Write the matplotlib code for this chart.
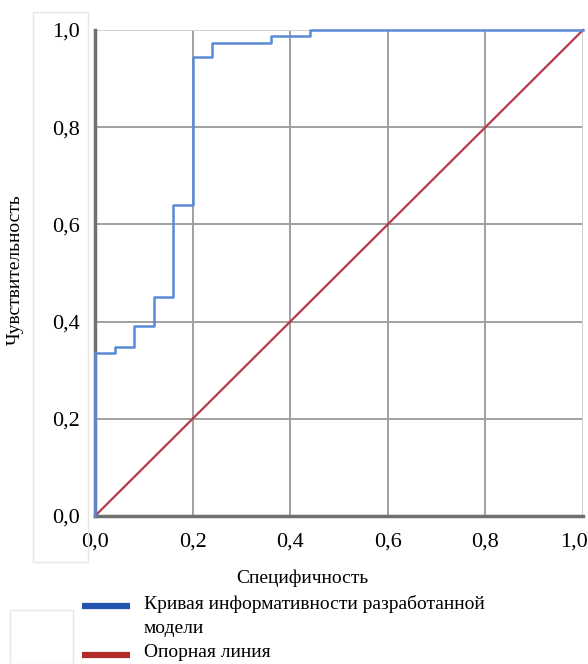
import matplotlib.pyplot as plt
import matplotlib.transforms as mtransforms
from matplotlib.lines import Line2D
from matplotlib.patches import Rectangle

plt.rcParams['font.family'] = ['Liberation Serif', 'DejaVu Serif']

# ступенчатая ROC-кривая (1 - специфичность, чувствительность)
roc_x = [0.0, 0.0, 0.04, 0.04, 0.08, 0.08, 0.12, 0.12, 0.16, 0.16,
         0.20, 0.20, 0.24, 0.24, 0.36, 0.36, 0.44, 0.44, 1.0]
roc_y = [0.0, 0.335, 0.335, 0.347, 0.347, 0.39, 0.39, 0.45, 0.45, 0.64,
         0.64, 0.945, 0.945, 0.974, 0.974, 0.988, 0.988, 1.0, 1.0]
ref_x = [0.0, 1.0]
ref_y = [0.0, 1.0]
ticks = [0.0, 0.2, 0.4, 0.6, 0.8, 1.0]
tick_labels = ['0,0', '0,2', '0,4', '0,6', '0,8', '1,0']
labels = ['Кривая информативности разработанной\nмодели', 'Опорная линия']

W, H = 588, 664
fig = plt.figure(figsize=(W / 100, H / 100), dpi=100)
ax = fig.add_axes([95 / W, 1 - 516 / H, 488 / W, 486 / H])

# бледные рамки вокруг подписей (как на скриншоте)
fig.patches.append(Rectangle((33 / W, 1 - 562 / H), 55 / W, 550 / H,
                             transform=fig.transFigure, fill=False,
                             edgecolor='#e6e6e6', lw=1))
fig.patches.append(Rectangle((10 / W, 0), 63 / W, 54 / H,
                             transform=fig.transFigure, fill=False,
                             edgecolor='#e6e6e6', lw=1))

for t in ticks[1:]:
    ax.axhline(t, color='#a0a0a0' if t < 1 else '#cfcfcf', lw=1.4, zorder=1)
    ax.axvline(t, color='#a0a0a0' if t < 1 else '#cfcfcf', lw=1.4, zorder=1)

ax.plot(ref_x, ref_y, color='#b5394b', lw=1.6, zorder=3, clip_on=False)
ax.plot(roc_x, roc_y, color='#5a8ad6', lw=1.8, zorder=4, clip_on=False)

ax.set_xlim(0, 1)
ax.set_ylim(0, 1)
ax.set_xticks(ticks)
ax.set_xticklabels(tick_labels, fontsize=16)
ax.set_yticks(ticks)
ax.set_yticklabels(tick_labels, fontsize=16)
ax.tick_params(axis='x', length=0, pad=12)
ax.tick_params(axis='y', length=0, pad=11)

# последняя подпись по x сдвинута влево, чтобы не обрезалась
last = ax.get_xticklabels()[-1]
last.set_transform(last.get_transform() +
                   mtransforms.ScaledTranslation(-9 / 100, 0, fig.dpi_scale_trans))

for s in ['top', 'right']:
    ax.spines[s].set_visible(False)
for s in ['left', 'bottom']:
    ax.spines[s].set_color('#707070')
    ax.spines[s].set_linewidth(2.5)
    ax.spines[s].set_zorder(2)

fig.text(302 / W, 1 - 578 / H, 'Специфичность', fontsize=14,
         ha='center', va='center')
fig.text(15 / W, 1 - 270 / H, 'Чувствительность', fontsize=14,
         ha='center', va='center', rotation=90)

# легенда
legend_colors = ['#2355b0', '#b22a2a']
legend_y = [606, 655]
for c, yy, lab in zip(legend_colors, legend_y, labels):
    fig.add_artist(Line2D([82 / W, 130 / W], [1 - yy / H, 1 - yy / H],
                          transform=fig.transFigure, color=c, lw=4.5,
                          solid_capstyle='butt'))
    fig.text(144 / W, 1 - (yy - 11) / H, lab, fontsize=14, ha='left',
             va='top', linespacing=1.55)

fig.savefig('out.png', dpi=100)
